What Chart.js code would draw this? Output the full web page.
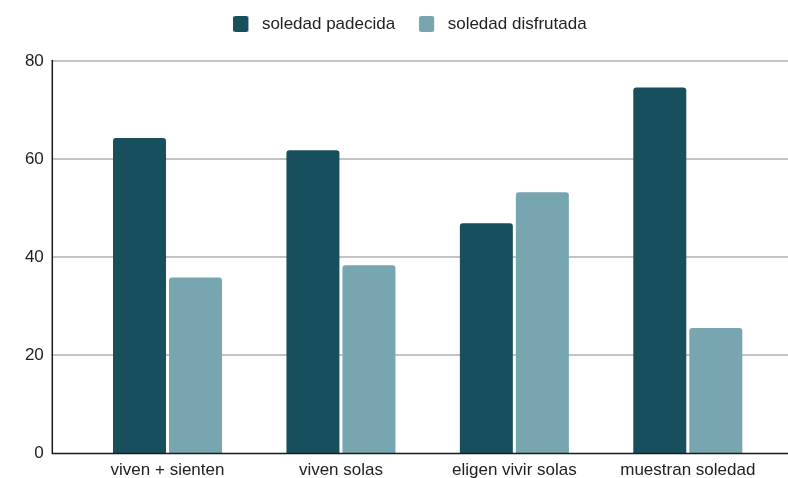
<!DOCTYPE html>
<html>
<head>
<meta charset="utf-8">
<script src="https://cdn.jsdelivr.net/npm/chart.js@4.4.1/dist/chart.umd.min.js"></script>
<style>
  html, body { margin: 0; padding: 0; background: #ffffff; }
  #wrap { width: 788px; height: 478px; }
</style>
</head>
<body>
<div id="wrap"><canvas id="chart"></canvas></div>
<script>
// Categories and series values (percent)
const categories = ['viven + sienten', 'viven solas', 'eligen vivir solas', 'muestran soledad'];
const padecida = [64.3, 61.8, 46.9, 74.6];
const disfrutada = [35.8, 38.3, 53.2, 25.5];
const seriesNames = ['soledad padecida', 'soledad disfrutada'];
const yTickValues = [0, 20, 40, 60, 80];

const COLORS = ['#174f5c', '#77a5b0'];
const FONT = { family: '"Liberation Sans", Arial, sans-serif', size: 17 };
const TEXT = '#222222';

// Legend swatch: a small rounded square on the left of a wider canvas,
// so the text sits a bit further from the square.
function swatch(color) {
  const c = document.createElement('canvas');
  c.width = 20; c.height = 16;
  const g = c.getContext('2d');
  g.fillStyle = color;
  const w = 15, h = 16, r = 2;
  g.beginPath();
  g.moveTo(r, 0); g.lineTo(w - r, 0); g.quadraticCurveTo(w, 0, w, r);
  g.lineTo(w, h - r); g.quadraticCurveTo(w, h, w - r, h);
  g.lineTo(r, h); g.quadraticCurveTo(0, h, 0, h - r);
  g.lineTo(0, r); g.quadraticCurveTo(0, 0, r, 0);
  g.fill();
  return c;
}
const swatches = COLORS.map(swatch);

// Frame: grid lines reaching past the plot, the left axis and the baseline.
const frame = {
  id: 'frame',
  beforeLayout(chart) {
    const lg = chart.legend;
    if (lg && !lg._sized) {
      const fit = lg.fit.bind(lg);
      lg.fit = function () { fit(); this.height = 61; };
      lg._sized = true;
    }
  },
  afterLayout(chart) {
    const lg = chart.legend;
    if (!lg) return;
    lg.top = -8.5;
    lg.left = 16;
    lg.right = 804;
  },
  beforeDatasetsDraw(chart) {
    const { ctx, scales: { y }, chartArea } = chart;
    const x0 = chartArea.left - 29;
    ctx.save();
    ctx.strokeStyle = '#c3c3c3';
    ctx.lineWidth = 2;
    y.ticks.forEach(t => {
      if (t.value === 0) return;
      const py = Math.round(y.getPixelForValue(t.value));
      ctx.beginPath();
      ctx.moveTo(x0, py);
      ctx.lineTo(chart.width, py);
      ctx.stroke();
    });
    ctx.restore();
  },
  afterDatasetsDraw(chart) {
    const { ctx, scales: { y }, chartArea } = chart;
    const x0 = chartArea.left - 29;
    const top = Math.round(y.getPixelForValue(y.max));
    const base = Math.round(y.getPixelForValue(0)) + 0.5;
    ctx.save();
    ctx.strokeStyle = '#1a1a1a';
    ctx.lineWidth = 1.5;
    ctx.beginPath();
    ctx.moveTo(x0 + 0.5, top - 1);
    ctx.lineTo(x0 + 0.5, base);
    ctx.lineTo(chart.width, base);
    ctx.stroke();
    ctx.restore();
  }
};

const barStyle = {
  categoryPercentage: 0.646,
  barPercentage: 0.946,
  borderRadius: { topLeft: 3, topRight: 3, bottomLeft: 0, bottomRight: 0 },
  borderSkipped: 'bottom'
};

new Chart(document.getElementById('chart'), {
  type: 'bar',
  data: {
    labels: categories,
    datasets: [
      Object.assign({ label: seriesNames[0], data: padecida, backgroundColor: COLORS[0] }, barStyle),
      Object.assign({ label: seriesNames[1], data: disfrutada, backgroundColor: COLORS[1] }, barStyle)
    ]
  },
  options: {
    responsive: true,
    maintainAspectRatio: false,
    animation: false,
    layout: { padding: { left: 0, right: 13.5, top: 0, bottom: 0 } },
    plugins: {
      tooltip: { enabled: false },
      legend: {
        position: 'top',
        align: 'center',
        labels: {
          usePointStyle: true,
          pointStyleWidth: 20,
          padding: 24,
          color: TEXT,
          font: FONT,
          generateLabels(chart) {
            return chart.data.datasets.map((ds, i) => ({
              text: ds.label,
              fillStyle: COLORS[i],
              strokeStyle: COLORS[i],
              lineWidth: 0,
              pointStyle: swatches[i],
              hidden: false,
              datasetIndex: i,
              fontColor: TEXT
            }));
          }
        }
      }
    },
    scales: {
      x: {
        grid: { display: false, drawTicks: false },
        border: { display: false },
        ticks: { color: TEXT, font: FONT, padding: 7.5, maxRotation: 0, autoSkip: false },
        afterFit(scale) { scale.height = 25; }
      },
      y: {
        min: 0,
        max: 80,
        afterBuildTicks(scale) { scale.ticks = yTickValues.map(v => ({ value: v })); },
        grid: { display: false, drawTicks: false },
        border: { display: false },
        ticks: { color: TEXT, font: FONT, padding: 37 },
        afterFit(scale) {
          scale.width = 80.8;
          scale.paddingTop = 10;
          scale.paddingBottom = 10;
        }
      }
    }
  },
  plugins: [frame]
});
</script>
</body>
</html>
